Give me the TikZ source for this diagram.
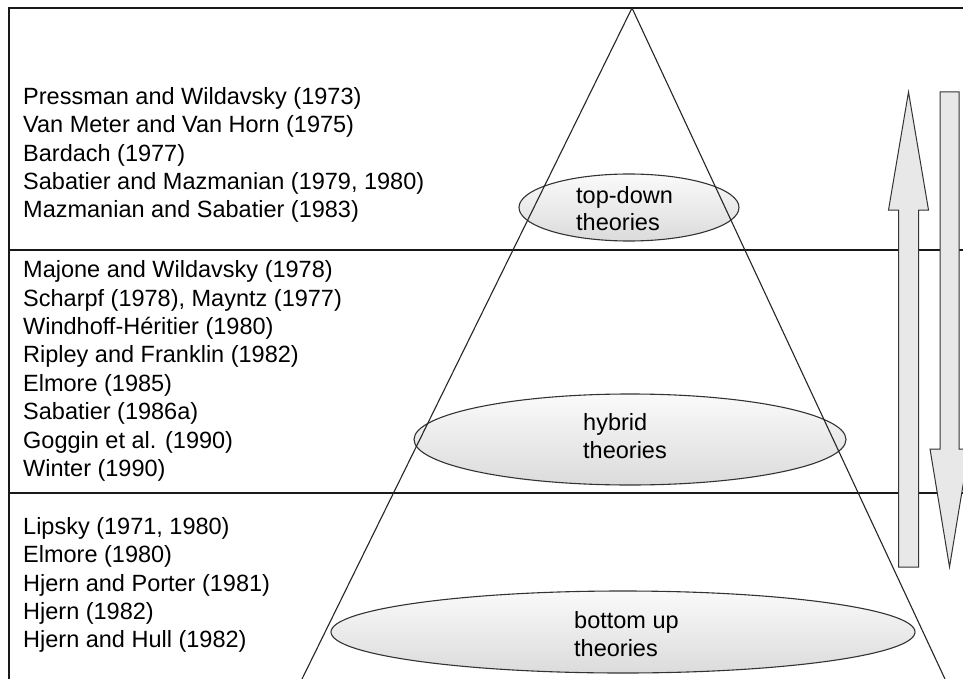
\documentclass[tikz,border=0pt]{standalone}
\usepackage{fontspec}
\setmainfont{Liberation Sans}
\usetikzlibrary{shapes.geometric}
\begin{document}
\begin{tikzpicture}[x=1pt,y=-1pt,
  frame/.style={line width=1.4pt,draw=black!90},
  cone/.style={line width=1.1pt,draw=black!85},
  ell/.style={ellipse,draw=black!80,line width=1.1pt,top color=gray!4,bottom color=gray!28,inner sep=0pt},
  lbl/.style={font=\fontsize{23.5}{27.5}\selectfont,align=left,inner sep=0pt,anchor=west,text=black},
  refs/.style={font=\fontsize{23.5}{28.4}\selectfont,align=left,inner sep=0pt,anchor=west,text=black},
  bigarrow/.style={fill=gray!18,draw=black!80,line width=1pt}]
\useasboundingbox (0,0) rectangle (963,679);
\clip (0,0) rectangle (963,679);
\fill[white] (0,0) rectangle (963,679);
% frame and separators
\coordinate (tl) at (9,8);
\coordinate (tr) at (975,8);
\coordinate (bl) at (9,690);
\draw[frame] (tr) -- (tl) -- (bl);
\coordinate (s1l) at (9,250);
\coordinate (s1r) at (975,250);
\coordinate (s2l) at (9,493);
\coordinate (s2r) at (975,493);
\draw[frame] (s1l) -- (s1r);
\draw[frame] (s2l) -- (s2r);
% ellipses
\node[ell,minimum width=220pt,minimum height=67pt] (td) at (629,207.5) {};
\node[ell,minimum width=432pt,minimum height=91pt] (hy) at (630,439.5) {};
\node[ell,minimum width=584pt,minimum height=82pt] (bu) at (623,632) {};
% cone
\coordinate (apex) at (632,8);
\coordinate (bl2) at (296.6,690);
\coordinate (br2) at (950.1,690);
\draw[cone] (bl2) -- (apex) -- (br2);
% ellipse labels
\node[lbl] (tdl) at (576,208.5) {top-down\\theories};
\node[lbl] (hyl) at (583,436) {hybrid\\theories};
\node[lbl] (bul) at (574,634) {bottom up\\theories};
% reference lists
\node[refs] (r1) at (23,155) {Pressman and Wildavsky (1973)\\Van Meter and Van Horn (1975)\\Bardach (1977)\\Sabatier and Mazmanian (1979, 1980)\\Mazmanian and Sabatier (1983)};
\node[refs] (r2) at (23,371) {Majone and Wildavsky (1978)\\Scharpf (1978), Mayntz (1977)\\Windhoff-Héritier (1980)\\Ripley and Franklin (1982)\\Elmore (1985)\\Sabatier (1986a)\\Goggin et al. (1990)\\Winter (1990)};
\node[refs] (r3) at (23,585) {Lipsky (1971, 1980)\\Elmore (1980)\\Hjern and Porter (1981)\\Hjern (1982)\\Hjern and Hull (1982)};
% arrows
\draw[bigarrow] (898.5,567) -- (918.5,567) -- (918.5,210) -- (928.5,210) -- (908.5,92) -- (888.5,210) -- (898.5,210) -- cycle;
\draw[bigarrow] (940,92) -- (959,92) -- (959,449) -- (969,449) -- (949.5,567) -- (930,449) -- (940,449) -- cycle;
\end{tikzpicture}
\end{document}
